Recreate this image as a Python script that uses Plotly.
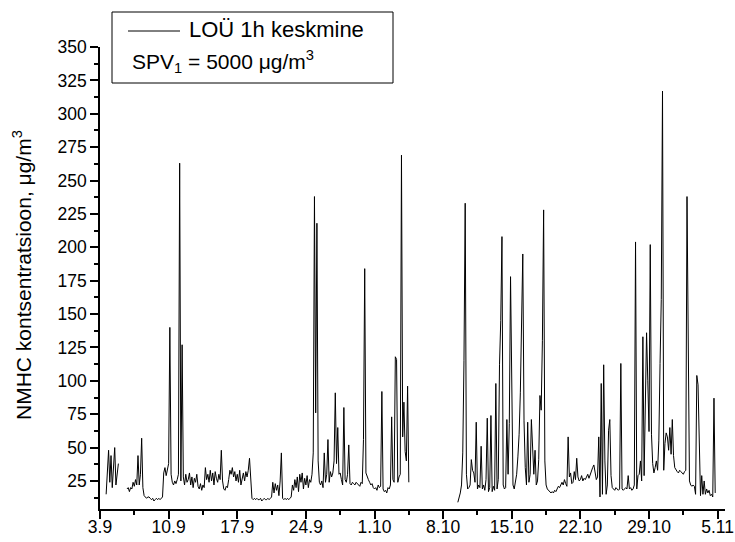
import pandas as pd
import plotly.graph_objects as go

# Hourly-station NMHC readings (µg/m³), sampled every 3 h: eight values per day
# (00, 03, 06, 09, 12, 15, 18, 21 h). None marks hours without data.
september = [
    [None, None, None, None, None, 15, 30, 48],   # 3.9
    [24, 44, 20, 33, 50, 22, 30, 38],
    [None, None, None, None, None, None, 19, 20],
    [17, 20, 19, 24, 21, 26, 22, 44],
    [22, 30, 57, 20, 14, 13, 12, 13],
    [13, 12, 11, 12, 10, 11, 12, 11],
    [12, 11, 12, 13, 31, 35, 29, 33],
    [38, 140, 30, 24, 22, 25, 23, 26],            # 10.9
    [30, 263, 25, 127, 28, 22, 30, 24],
    [26, 31, 22, 28, 20, 27, 24, 30],
    [21, 19, 23, 18, 22, 20, 35, 26],
    [30, 24, 33, 25, 31, 22, 32, 27],
    [24, 30, 26, 48, 25, 19, 18, 21],
    [20, 26, 33, 30, 35, 28, 32, 25],
    [30, 24, 33, 22, 28, 31, 25, 32],             # 17.9
    [28, 33, 42, 25, 12, 11, 12, 11],
    [12, 11, 11, 12, 10, 11, 12, 11],
    [11, 12, 11, 12, 13, 24, 16, 23],
    [18, 22, 14, 25, 46, 12, 11, 12],
    [11, 12, 11, 12, 13, 22, 18, 26],
    [20, 28, 17, 30, 24, 31, 19, 27],
    [22, 29, 20, 26, 24, 30, 46, 238],            # 24.9
    [76, 218, 40, 24, 22, 25, 20, 46],
    [24, 30, 56, 24, 32, 28, 31, 40],
    [91, 38, 65, 30, 31, 26, 22, 80],
    [26, 24, 30, 52, 23, 22, 24, 23],
    [22, 24, 23, 22, 21, 24, 23, 56],
    [184, 31, 28, 26, 24, 22, 23, 20],
]

october = [
    [19, 20, 18, 22, 20, 21, 92, 19],             # 1.10
    [17, 18, 16, 20, 19, 22, 73, 26],
    [24, 118, 116, 24, 28, 30, 269, 58],
    [84, 47, 40, 96, 24, None, None, None],
    [None] * 8,
    [None] * 8,
    [None] * 8,
    [None] * 8,                                   # 8.10
    [None, None, None, None, 9, 12, 16, 22],
    [46, 115, 233, 30, 19, 20, 22, 41],
    [33, 31, 24, 69, 19, 22, 20, 51],
    [19, 22, 18, 26, 72, 17, 20, 74],
    [17, 21, 18, 98, 19, 26, 112, 145],
    [208, 22, 19, 20, 71, 30, 68, 178],
    [73, 22, 19, 24, 30, 43, 60, 91],             # 15.10
    [163, 195, 70, 35, 22, 69, 24, 30],
    [71, 46, 30, 48, 22, 25, 41, 89],
    [78, 130, 228, 40, 22, 19, 18, 17],
    [16, 17, 16, 18, 17, 19, 21, 20],
    [22, 24, 22, 26, 23, 21, 58, 28],
    [31, 23, 24, 32, 26, 42, 28, 25],
    [26, 29, 25, 27, 26, 28, 30, 27],             # 22.10
    [30, 33, 35, 37, 30, 26, 28, 58],
    [13, 98, 15, 112, 40, 15, 22, 63],
    [71, 29, 20, 19, 18, 20, 19, 18],
    [19, 113, 19, 18, 19, 20, 19, 29],
    [19, 20, 18, 19, 22, 204, 19, 29],
    [30, 40, 25, 133, 29, 96, 136, 100],
    [62, 202, 60, 38, 31, 35, 40, 33],            # 29.10
    [55, 113, 161, 317, 33, 53, 61, 58],
    [48, 65, 45, 71, 44, 35, 33, 32],
]

november = [
    [31, 33, 32, 31, 30, 32, 33, 238],            # 1.11
    [113, 25, 22, 21, 22, 21, 15, 104],
    [97, 48, 14, 29, 15, 25, 15, 19],
    [16, 18, 14, 15, 13, 87, 16, None],
]

tick_labels = ["3.9", "10.9", "17.9", "24.9", "1.10", "8.10",
               "15.10", "22.10", "29.10", "5.11"]

values = [v for day in september + october + november for v in day]
times = pd.date_range("2010-09-03 00:00", periods=len(values), freq="3h")

tick_dates = pd.date_range("2010-09-03", periods=len(tick_labels), freq="7D")
minor_dates = pd.date_range("2010-09-06 12:00", periods=len(tick_labels) - 1, freq="7D")

FONT = "Liberation Sans, Arial, sans-serif"
W, H = 735, 542
L, R, T, B = 100, 10, 47, 33
PW, PH = W - L - R, H - T - B


def px(x, y):
    """Pixel position -> paper coordinates."""
    return (x - L) / PW, (H - B - y) / PH


fig = go.Figure()
fig.add_trace(go.Scatter(
    x=times, y=values, mode="lines",
    line=dict(color="black", width=1),
    connectgaps=False, showlegend=False,
))

axis_common = dict(
    showline=True, linecolor="black", linewidth=1.5,
    ticks="outside", ticklen=8, tickwidth=1.5, tickcolor="black",
    showgrid=False, zeroline=False, mirror=False, automargin=False,
    tickfont=dict(family=FONT, size=17.5, color="black"),
)

fig.update_xaxes(
    type="date",
    range=["2010-09-03 00:00", "2010-11-05 18:00"],
    tickmode="array", tickvals=tick_dates, ticktext=tick_labels,
    ticklabelstandoff=-7,
    minor=dict(tickmode="array", tickvals=minor_dates, ticks="outside",
               ticklen=4, tickwidth=1.5, tickcolor="black"),
    **axis_common,
)
fig.update_yaxes(
    range=[4, 350],
    tickmode="linear", tick0=0, dtick=25,
    minor=dict(dtick=12.5, tick0=0, ticks="outside", ticklen=4,
               tickwidth=1.5, tickcolor="black"),
    **axis_common,
)

# Legend box drawn by hand: frame, line sample and two text rows
x0, y0 = px(112, 12)
x1, y1 = px(393, 83)
lx0, ly = px(128, 31)
lx1, _ = px(180, 31)
fig.add_shape(type="rect", xref="paper", yref="paper", x0=x0, y0=y1, x1=x1, y1=y0,
              line=dict(color="black", width=1), fillcolor="white", layer="above")
fig.add_shape(type="line", xref="paper", yref="paper", x0=lx0, y0=ly, x1=lx1, y1=ly,
              line=dict(color="black", width=1), layer="above")

tx, ty = px(187, 30)
fig.add_annotation(xref="paper", yref="paper", x=tx, y=ty, xanchor="left", yanchor="middle",
                   text="LOÜ 1h keskmine", showarrow=False,
                   font=dict(family=FONT, size=22, color="black"))
sx, sy = px(130, 62)
fig.add_annotation(xref="paper", yref="paper", x=sx, y=sy, xanchor="left", yanchor="middle",
                   text="SPV<sub>1</sub> = 5000 μg/m<sup>3</sup>", showarrow=False,
                   font=dict(family=FONT, size=21, color="black"))

# Y-axis title
ax, ay = px(22, 275)
fig.add_annotation(xref="paper", yref="paper", x=ax, y=ay, xanchor="center", yanchor="middle",
                   text="NMHC kontsentratsioon, μg/m<sup>3</sup>", textangle=-90,
                   showarrow=False, font=dict(family=FONT, size=21, color="black"))

fig.update_layout(
    width=W, height=H,
    margin=dict(l=L, r=R, t=T, b=B, autoexpand=False),
    paper_bgcolor="white", plot_bgcolor="white",
    showlegend=False,
)

fig.write_html("out.html")
